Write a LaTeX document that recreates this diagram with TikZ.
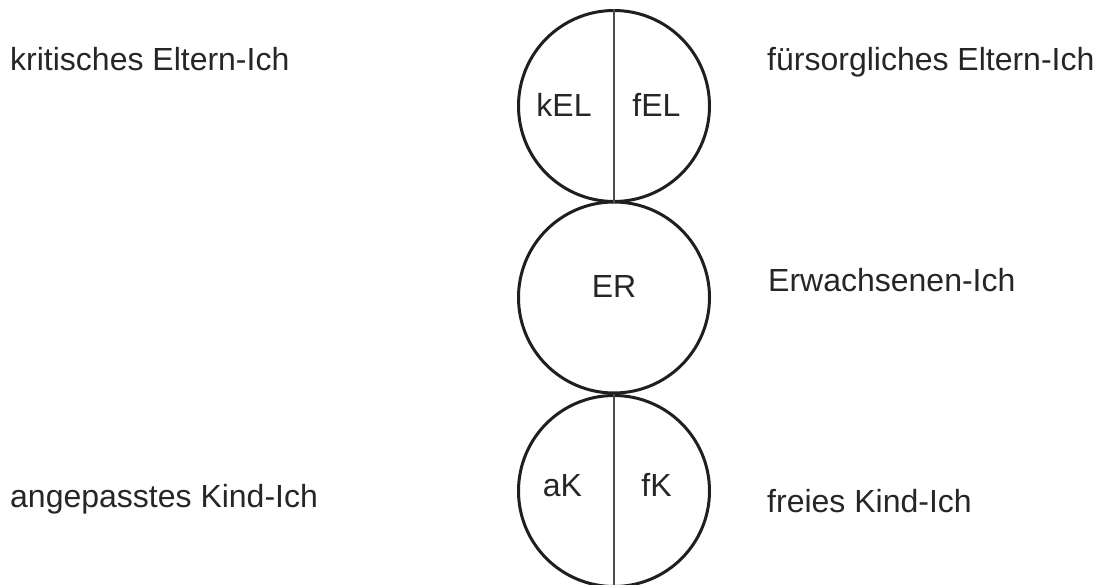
\documentclass[tikz,border=0pt]{standalone}
\usepackage{fontspec}
\setmainfont{Liberation Sans}
\begin{document}
\begin{tikzpicture}[x=1pt,y=-1pt,
  ego/.style={circle,draw=black!88,line width=3pt,minimum size=191pt,inner sep=0pt},
  divider/.style={draw=black!70,line width=1.4pt},
  lbl/.style={inner sep=0pt,anchor=base west,text=black!85,font=\fontsize{32pt}{36pt}\selectfont},
  part/.style={inner sep=0pt,anchor=base,text=black!85,font=\fontsize{32pt}{36pt}\selectfont}]
\useasboundingbox (0,0) rectangle (1098,585);
% the three ego states
\node[ego] (EL) at (614,106) {};
\node[ego] (ER) at (614,297.5) {};
\node[ego] (K)  at (614,491) {};
\draw[divider] (EL.north) -- (EL.south);
\draw[divider] (K.north) -- (K.south);
% abbreviations inside the circles
\node[part] (kEL) at (564,117) {kEL};
\node[part] (fEL) at (656.5,117) {fEL};
\node[part] (ERt) at (614,298) {ER};
\node[part] (aK)  at (562.5,496) {aK};
\node[part] (fK)  at (656.5,496) {fK};
% full names
\node[lbl] (l1) at (10,71) {kritisches Eltern-Ich};
\node[lbl] (r1) at (767,71) {fürsorgliches Eltern-Ich};
\node[lbl] (r2) at (768,292) {Erwachsenen-Ich};
\node[lbl] (l3) at (10,507) {angepasstes Kind-Ich};
\node[lbl] (r3) at (767,512) {freies Kind-Ich};
\end{tikzpicture}
\end{document}
